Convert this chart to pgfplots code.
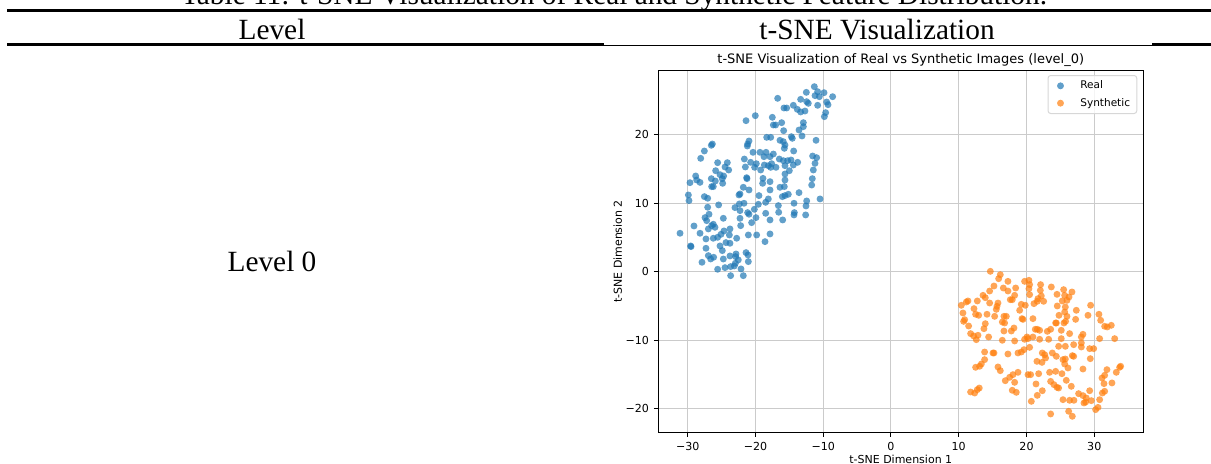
\documentclass[border=0pt]{standalone}
\usepackage{fontspec}
\setmainfont{Liberation Serif}
\newfontfamily\dejavu{DejaVu Sans}
\usepackage{pgfplots}
\usepackage{pgfplotstable}
\pgfplotsset{compat=1.18}

\definecolor{realblue}{HTML}{1F77B4}
\definecolor{synorange}{HTML}{FF7F0E}
\definecolor{gridgray}{RGB}{203,203,203}
\definecolor{legframe}{RGB}{215,215,215}

% t-SNE embedding, real samples
\pgfplotstableread{
x y
-11.31 26.97
-10.82 26.24
-9.88 26.09
-11.21 25.66
-10.57 25.51
-9.49 24.73
-8.61 25.51
-12.49 26.14
-13.33 25.12
-12.44 24.78
-12.20 24.54
-16.72 25.27
-15.79 23.86
-15.39 23.86
-14.41 24.25
-13.82 23.66
-13.33 23.28
-12.69 23.42
-10.82 24.25
-9.29 24.34
-9.64 23.18
-9.83 22.60
-20.02 22.74
-21.39 22.01
-17.51 22.50
-17.36 21.38
-17.02 21.38
-16.13 21.72
-12.93 21.72
-12.93 21.14
-13.57 20.65
-15.84 20.55
-14.70 19.68
-14.56 19.44
-13.13 19.78
-11.06 19.15
-18.34 19.58
-17.75 19.58
-16.38 19.15
-15.89 18.95
-15.64 18.46
-15.74 17.98
-14.36 17.59
-20.95 19.05
-21.15 18.61
-21.20 18.32
-20.36 17.40
-19.33 17.40
-18.44 17.40
-17.85 16.76
-17.36 17.15
-18.74 16.76
-21.64 16.42
-20.71 15.94
-19.87 15.74
-18.69 15.55
-18.10 15.45
-17.61 15.74
-16.97 15.21
-16.48 16.42
-15.89 16.18
-15.25 16.18
-14.75 16.28
-13.77 15.94
-15.64 15.45
-14.41 15.55
-15.00 14.72
-15.64 14.24
-11.56 16.86
-10.97 16.62
-11.21 15.79
-11.46 14.82
-11.61 13.56
-11.70 12.63
-26.36 18.61
-26.51 18.42
-27.54 17.59
-28.08 16.52
-25.58 15.89
-24.15 15.89
-24.49 15.26
-23.95 14.82
-25.87 14.72
-25.23 14.14
-24.69 13.95
-24.89 13.56
-26.51 13.56
-25.92 13.22
-24.84 12.88
-28.82 13.95
-28.67 13.36
-28.18 13.02
-29.66 12.97
-21.30 13.70
-21.25 13.56
-21.49 15.26
-20.12 15.21
-18.89 13.60
-18.94 12.88
-17.85 13.12
-15.64 13.36
-19.23 14.82
-17.75 15.21
-26.46 12.40
-26.22 12.40
-21.79 12.30
-20.95 11.91
-16.38 12.30
-15.74 12.40
-17.85 11.91
-29.90 11.18
-29.81 10.36
-27.54 10.94
-27.05 10.70
-22.43 11.18
-22.28 11.33
-19.48 11.09
-18.10 10.60
-18.49 10.11
-16.03 10.94
-15.64 11.09
-15.15 11.28
-13.57 11.52
-12.44 10.31
-12.54 9.58
-10.47 10.60
-14.31 9.97
-14.26 8.61
-14.31 8.27
-12.59 8.27
-16.62 9.63
-16.57 8.66
-15.98 7.54
-17.85 7.54
-18.49 8.51
-19.57 9.82
-20.16 9.09
-21.15 8.61
-20.95 8.37
-20.56 7.15
-19.92 7.88
-21.69 9.97
-22.38 9.87
-23.02 9.34
-22.28 8.90
-22.28 7.78
-22.18 6.71
-25.43 9.73
-27.05 9.39
-26.85 8.37
-27.44 7.88
-27.20 7.44
-26.46 6.71
-26.95 6.23
-26.22 6.91
-25.97 6.47
-24.74 7.78
-29.07 6.66
-28.18 5.60
-31.13 5.60
-29.56 3.75
-29.51 3.65
-27.30 4.77
-27.30 3.41
-26.22 4.87
-25.58 5.01
-25.08 5.45
-24.64 5.94
-23.76 6.23
-23.85 5.35
-24.35 4.24
-23.76 4.14
-25.23 3.75
-24.89 3.07
-22.77 4.87
-21.05 5.35
-19.82 5.35
-17.85 5.50
-18.59 4.38
-26.95 2.34
-26.61 1.85
-26.17 2.10
-27.89 1.37
-24.74 1.85
-23.76 2.29
-22.87 2.58
-22.92 2.19
-22.53 1.71
-22.97 1.22
-21.39 2.78
-21.10 2.44
-21.05 1.47
-23.12 0.83
-23.66 0.74
-24.49 0.59
-25.58 0.35
-22.13 0.40
-23.66 -0.58
-21.79 -0.58
}\realdata

% t-SNE embedding, synthetic samples
\pgfplotstableread{
x y
14.66 0.05
16.13 -0.44
15.89 -1.02
17.26 -1.41
15.20 -2.09
14.56 -2.82
16.58 -2.38
17.26 -2.82
18.40 -2.38
19.72 -1.41
20.36 -1.26
20.46 -1.89
20.36 -2.48
20.46 -3.35
22.08 -1.89
22.04 -2.72
22.18 -3.54
21.69 -3.93
22.53 -4.32
21.10 -4.66
21.59 -4.32
23.66 -2.23
24.50 -3.30
25.48 -2.62
25.63 -3.45
26.71 -2.96
26.27 -3.69
25.28 -4.27
25.97 -4.18
24.54 -5.00
25.73 -5.15
27.35 -5.63
29.46 -4.90
25.63 -5.88
25.97 -6.51
24.79 -6.36
25.77 -7.24
25.53 -7.48
24.40 -7.48
27.25 -6.95
29.07 -6.36
30.69 -6.21
30.94 -7.09
31.53 -7.96
31.92 -8.06
32.51 -7.82
13.58 -3.45
13.92 -3.79
12.74 -4.27
10.38 -4.90
11.12 -4.42
11.36 -4.27
10.62 -6.02
10.87 -7.00
10.72 -7.24
11.46 -7.92
12.25 -5.39
12.49 -6.21
12.94 -6.36
14.17 -6.21
14.56 -4.57
15.79 -4.57
15.64 -5.05
15.54 -5.49
15.30 -6.51
16.67 -6.51
17.02 -6.51
16.43 -7.34
16.77 -7.48
18.25 -3.45
17.90 -4.08
17.61 -4.08
19.23 -4.76
19.82 -4.90
18.99 -5.63
19.33 -6.85
19.48 -6.95
20.95 -6.85
21.59 -8.40
21.30 -8.40
21.94 -8.55
23.07 -8.70
23.56 -8.40
25.13 -8.55
24.30 -7.48
26.36 -9.03
28.33 -9.13
28.09 -9.52
13.92 -7.58
13.72 -8.31
11.75 -9.03
12.20 -9.37
12.84 -9.27
14.41 -9.52
16.67 -8.65
17.76 -8.65
18.15 -8.21
20.07 -9.52
20.22 -9.76
19.72 -9.86
20.95 -9.52
21.94 -9.86
23.27 -9.86
25.13 -9.76
30.79 -9.76
33.01 -9.76
16.43 -10.00
18.25 -10.10
12.59 -9.91
13.82 -11.71
15.05 -11.85
15.20 -11.85
17.26 -12.00
18.74 -11.85
19.23 -11.71
19.63 -11.37
20.46 -11.03
24.74 -10.88
25.73 -10.88
26.96 -10.64
28.09 -10.98
28.09 -10.39
29.32 -11.22
29.91 -11.22
22.33 -11.85
22.68 -12.10
22.82 -12.58
23.81 -11.85
24.40 -12.34
21.54 -13.07
22.28 -13.22
25.38 -12.82
25.73 -12.73
25.63 -13.46
26.96 -12.34
26.76 -12.24
26.12 -14.04
28.33 -14.19
29.41 -12.68
13.82 -12.82
13.33 -13.46
13.08 -13.79
12.49 -13.94
15.79 -13.89
16.13 -14.43
18.00 -15.01
18.74 -14.67
17.51 -15.40
16.87 -15.89
18.25 -16.13
20.22 -15.01
20.61 -15.01
21.79 -14.87
23.41 -14.67
24.30 -14.53
25.23 -14.87
21.40 -16.37
23.56 -15.99
24.05 -16.47
24.50 -16.86
24.74 -16.96
25.87 -15.84
26.61 -16.71
22.33 -17.35
21.59 -18.03
20.71 -18.90
17.90 -17.29
18.49 -17.59
13.03 -16.96
12.74 -17.20
12.35 -17.69
11.75 -17.54
25.38 -18.66
26.36 -18.75
27.00 -18.75
27.69 -17.78
28.33 -18.07
28.82 -18.41
28.73 -19.00
29.56 -18.80
28.48 -19.14
29.32 -17.35
30.79 -18.66
31.19 -17.69
31.53 -17.44
31.43 -16.32
31.14 -15.50
31.53 -15.11
31.87 -14.28
33.25 -14.67
33.74 -13.94
33.89 -13.79
32.61 -16.22
30.55 -19.78
30.20 -20.11
23.56 -20.74
26.22 -20.35
26.76 -21.08
}\syndata

\begin{document}
\begin{tikzpicture}
\useasboundingbox (0pt,0pt) rectangle (908.25pt,-348pt);

% table caption and rules
\node[anchor=base, font=\fontsize{22pt}{26pt}\selectfont] at (460.5pt,-3.6pt)
  {Table 11: t-SNE Visualization of Real and Synthetic Feature Distribution.};
\draw[line width=2pt] (5.25pt,-7.8pt) -- (908.25pt,-7.8pt);
\node[anchor=base, font=\fontsize{22pt}{26pt}\selectfont] at (204pt,-29.25pt) {Level};
\node[anchor=base, font=\fontsize{22pt}{26pt}\selectfont] at (657.75pt,-29.25pt) {t-SNE Visualization};
\draw[line width=2pt] (5.25pt,-33.5pt) -- (908.25pt,-33.5pt);
\fill[white] (453pt,-32.3pt) rectangle (864pt,-33.75pt);
\node[anchor=base, font=\fontsize{22pt}{26pt}\selectfont] at (204pt,-203.25pt) {Level 0};

\begin{axis}[
  at={(493.7pt,-324.2pt)}, anchor=south west,
  scale only axis, width=363.75pt, height=271.2pt,
  xmin=-34.34, xmax=37.23, ymin=-23.41, ymax=29.3,
  axis on top,
  axis line style={line width=0.75pt, black},
  xtick={-30,-20,-10,0,10,20,30},
  xticklabels={−30,−20,−10,0,10,20,30},
  ytick={-20,-10,0,10,20},
  yticklabels={−20,−10,0,10,20},
  xtick pos=left, ytick pos=left,
  tick align=outside, major tick length=3.3pt,
  tick style={line width=0.75pt, black},
  grid=major, major grid style={line width=0.75pt, gridgray},
  ticklabel style={font=\dejavu\fontsize{8.3pt}{9pt}\selectfont},
  xticklabel style={anchor=north, inner sep=0pt, yshift=-3.7pt},
  yticklabel style={anchor=east, inner sep=0pt, xshift=-3.45pt},
  title={t-SNE Visualization of Real vs Synthetic Images (level\_0)},
  title style={font=\dejavu\fontsize{9.75pt}{11pt}\selectfont, at={(axis description cs:0.5,1)}, anchor=base, yshift=-0.5pt, inner sep=0pt},
  xlabel={t-SNE Dimension 1},
  xlabel style={font=\dejavu\fontsize{8.25pt}{10pt}\selectfont, at={(axis description cs:0.5,-0.0877)}, anchor=base, inner sep=0pt},
  ylabel={t-SNE Dimension 2},
  ylabel style={font=\dejavu\fontsize{8.25pt}{10pt}\selectfont, at={(axis description cs:-0.0748,0.5)}, anchor=base, inner sep=0pt},
  legend style={at={(axis description cs:0.9876,0.988)}, anchor=north east,
    draw=legframe, line width=0.75pt, rounded corners=2pt,
    fill=white, fill opacity=0.8, text opacity=1,
    font=\dejavu\fontsize{7.9pt}{9pt}\selectfont,
    inner xsep=3pt, inner ysep=2pt, row sep=1.5pt},
  legend cell align=left,
  legend image code/.code={%
    \path (0cm,0cm) (0.65cm,0cm);
    \draw[#1] plot coordinates {(0.21cm,0cm)};},
]
\addplot[only marks, mark=*, mark size=2.6pt,
  mark options={draw=realblue, draw opacity=0, fill=realblue, fill opacity=0.7}] table {\realdata};
\addlegendentry{Real}
\addplot[only marks, mark=*, mark size=2.6pt,
  mark options={draw=synorange, draw opacity=0, fill=synorange, fill opacity=0.7}] table {\syndata};
\addlegendentry{Synthetic}
\end{axis}
\end{tikzpicture}
\end{document}
